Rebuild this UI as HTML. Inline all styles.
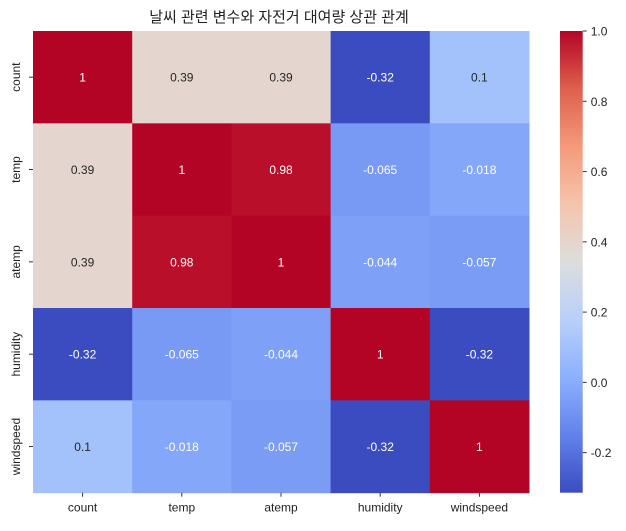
<!DOCTYPE html>
<html><head><meta charset="utf-8"><style>
body{margin:0;background:#fff;}
svg text{font-family:"Liberation Sans","Noto Sans CJK KR",sans-serif;}
</style></head><body>
<svg id="c" width="626" height="526" xmlns="http://www.w3.org/2000/svg">
<defs><linearGradient id="cg" x1="0" y1="1" x2="0" y2="0"></linearGradient></defs>
<text x="279" y="22" font-size="15" text-anchor="middle" fill="#222">날씨 관련 변수와 자전거 대여량 상관 관계</text>
<g id="cells"></g><g id="xl"></g><g id="yl"></g><g id="cb"></g>
</svg>
<script>
const labels=["count","temp","atemp","humidity","windspeed"];
const matrix=[
[1,0.39,0.39,-0.32,0.1],
[0.39,1,0.98,-0.065,-0.018],
[0.39,0.98,1,-0.044,-0.057],
[-0.32,-0.065,-0.044,1,-0.32],
[0.1,-0.018,-0.057,-0.32,1]];
const cbTicks=[1.0,0.8,0.6,0.4,0.2,0.0,-0.2];
const vmin=-0.314,vmax=1;
const NS="http://www.w3.org/2000/svg";
const stops=[[59,76,192],[98,130,234],[141,176,254],[184,208,249],[221,221,221],[245,196,173],[244,154,123],[222,96,77],[180,4,38]];
function cmap(t){t=Math.max(0,Math.min(1,t));const p=t*8,i=Math.min(7,Math.floor(p)),f=p-i;const a=stops[i],b=stops[i+1];return a.map((v,k)=>Math.round(v+(b[k]-v)*f));}
const L=33,T=31,W=496,H=461.7,cw=W/labels.length,ch=H/labels.length;
const xs=i=>L+i*cw, ys=j=>T+j*ch;
function el(t,a,p){const e=document.createElementNS(NS,t);for(const k in a)e.setAttribute(k,a[k]);p.appendChild(e);return e;}
const cells=document.getElementById('cells');
matrix.forEach((row,j)=>row.forEach((v,i)=>{
 const c=cmap((v-vmin)/(vmax-vmin));
 const r=el('rect',{x:xs(i),y:ys(j),width:cw+0.5,height:ch+0.5,fill:`rgb(${c})`},cells);
 
 
 const lum=c.map(x=>{x/=255;return x<=0.03928?x/12.92:Math.pow((x+0.055)/1.055,2.4)});
 const Y=0.2126*lum[0]+0.7152*lum[1]+0.0722*lum[2];
 const t=el('text',{x:xs(i)+cw/2,y:ys(j)+ch/2+4.5,'font-size':12,'text-anchor':'middle',fill:Y>0.408?'#262626':'#fff'},cells);
 t.textContent=String(v);
 
 
}));
const xl=document.getElementById('xl'),yl=document.getElementById('yl');
labels.forEach((s,i)=>{
 el('line',{x1:xs(i)+cw/2,x2:xs(i)+cw/2,y1:T+H,y2:T+H+4,stroke:'#333'},xl);
 const t=el('text',{x:xs(i)+cw/2,y:T+H+19,'font-size':12,'text-anchor':'middle',fill:'#222'},xl);
 t.textContent=s;
 
 
 el('line',{x1:L-4,x2:L,y1:ys(i)+ch/2,y2:ys(i)+ch/2,stroke:'#333'},yl);
 const cy=ys(i)+ch/2;
 const u=el('text',{x:20,y:cy,'font-size':12,'text-anchor':'middle',fill:'#222',transform:`rotate(-90 20 ${cy})`},yl);
 u.textContent=s;
 
 
});
const g=document.getElementById('cg');
for(let k=0;k<=8;k++)el('stop',{offset:k/8,'stop-color':`rgb(${stops[k]})`},g);
const cb=document.getElementById('cb');
const cbx=560,cbw=22.7;
const cbr=el('rect',{x:cbx,y:T,width:cbw,height:H,fill:'url(#cg)'},cb);


const cy=v=>T+H-(v-vmin)/(vmax-vmin)*H;
cbTicks.forEach(v=>{
 el('line',{x1:cbx+cbw,x2:cbx+cbw+4,y1:cy(v),y2:cy(v),stroke:'#333'},cb);
 const t=el('text',{x:cbx+cbw+8,y:cy(v)+4.5,'font-size':12,fill:'#222'},cb);
 t.textContent=v.toFixed(1);
 
 
});
</script>
</body></html>
